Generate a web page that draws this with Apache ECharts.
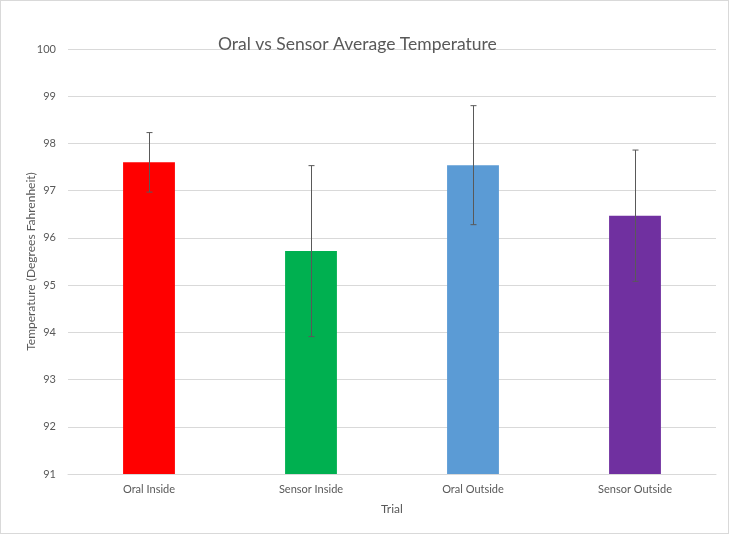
<!DOCTYPE html>
<html>
<head>
<meta charset="utf-8">
<script src="https://cdn.jsdelivr.net/npm/echarts@6/dist/echarts.min.js"></script>
<style>
html,body{margin:0;padding:0;background:#fff;}
#chart{width:727px;height:532px;border:1px solid #d9d9d9;}
</style>
</head>
<body>
<div id="chart"></div>
<script>
const categories = ['Oral Inside', 'Sensor Inside', 'Oral Outside', 'Sensor Outside'];
const values = [97.6, 95.72, 97.54, 96.47];
const errors = [0.63, 1.81, 1.26, 1.39];
const colors = ['#FF0000', '#00B050', '#5B9BD5', '#7030A0'];
const yTicks = [91, 92, 93, 94, 95, 96, 97, 98, 99, 100];

const chart = echarts.init(document.getElementById('chart'));
const font = 'Lato, "Open Sans", sans-serif';
chart.setOption({
  animation: false,
  title: {
    text: 'Oral vs Sensor Average Temperature',
    left: 212, top: 29,
    textStyle: {fontFamily: font, fontSize: 17.5, fontWeight: 'normal', color: '#595959'}
  },
  grid: {left: 67, right: 12, top: 48, bottom: 59},
  xAxis: {
    type: 'category',
    data: categories,
    name: 'Trial',
    nameLocation: 'middle',
    nameGap: 29,
    nameTextStyle: {fontFamily: font, fontSize: 12, color: '#595959'},
    axisLine: {lineStyle: {color: '#d9d9d9'}},
    axisTick: {show: false},
    axisLabel: {fontFamily: font, fontSize: 11, color: '#595959', margin: 10}
  },
  yAxis: {
    type: 'value',
    min: yTicks[0], max: yTicks[yTicks.length - 1], interval: 1,
    name: 'Temperature (Degrees Fahrenheit)',
    nameLocation: 'middle',
    nameGap: 31,
    nameMoveOverlap: false,
    nameTextStyle: {fontFamily: font, fontSize: 12, color: '#595959'},
    axisLine: {show: false},
    axisTick: {show: false},
    axisLabel: {fontFamily: font, fontSize: 11, color: '#595959', margin: 12},
    splitLine: {lineStyle: {color: '#d9d9d9'}}
  },
  series: [
    {
      type: 'bar',
      data: values.map((v, i) => ({value: v, itemStyle: {color: colors[i]}})),
      barWidth: '32%'
    },
    {
      type: 'custom',
      data: values.map((v, i) => [i, v - errors[i], v + errors[i]]),
      z: 10,
      renderItem: function (params, api) {
        const lo = api.coord([api.value(0), api.value(1)]);
        const hi = api.coord([api.value(0), api.value(2)]);
        const x = Math.round(lo[0]) + 0.5;
        const w = 3;
        const style = {stroke: '#595959', lineWidth: 1, fill: null};
        return {
          type: 'group',
          children: [
            {type: 'line', shape: {x1: x, y1: hi[1], x2: x, y2: lo[1]}, style: style},
            {type: 'line', shape: {x1: x - w, y1: hi[1], x2: x + w, y2: hi[1]}, style: style},
            {type: 'line', shape: {x1: x - w, y1: lo[1], x2: x + w, y2: lo[1]}, style: style}
          ]
        };
      }
    }
  ]
});
</script>
</body>
</html>
